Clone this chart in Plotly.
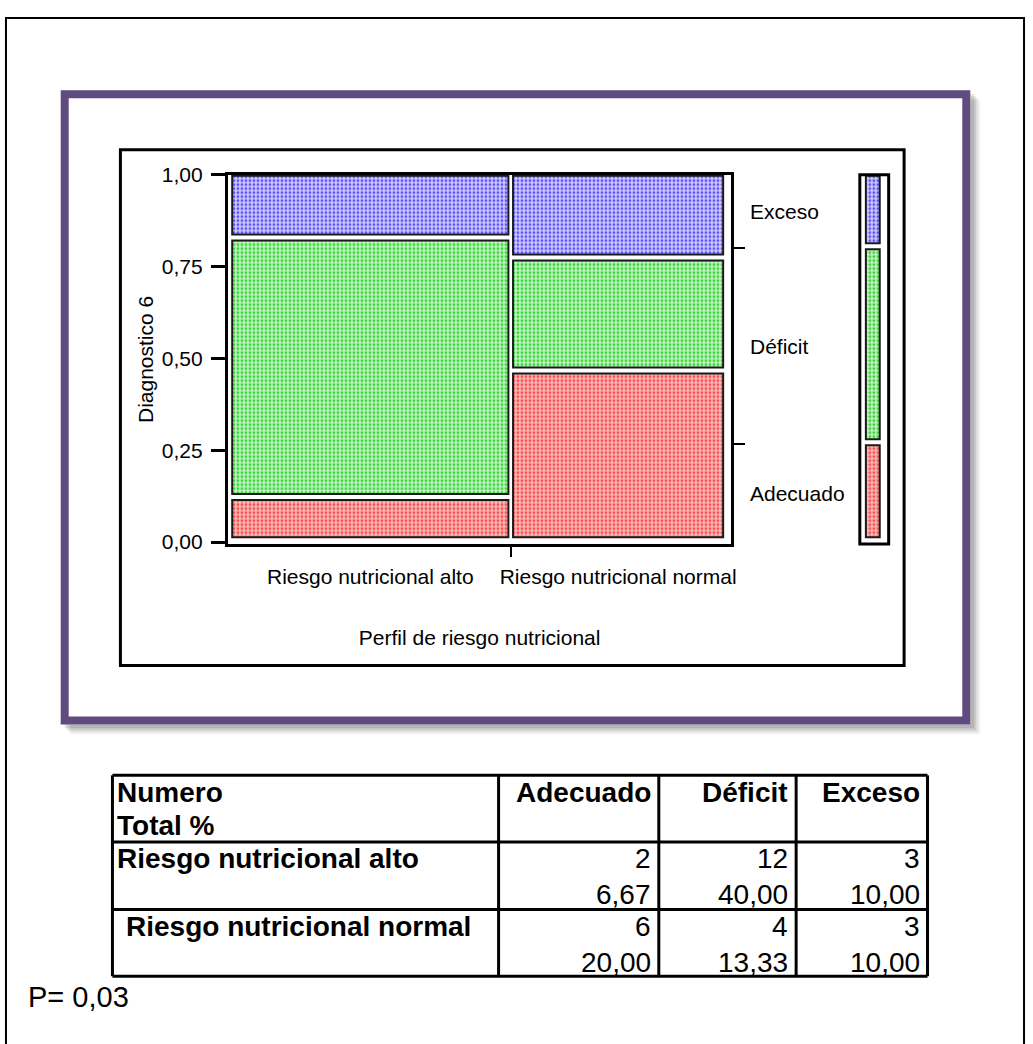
import plotly.graph_objects as go

# ---------------- data ----------------
perfiles = ["Riesgo nutricional alto", "Riesgo nutricional normal"]
diagnosticos = ["Adecuado", "Déficit", "Exceso"]
conteo_alto = [2, 12, 3]
conteo_normal = [6, 4, 3]
pct_alto = ["6,67", "40,00", "10,00"]
pct_normal = ["20,00", "13,33", "10,00"]
ytick_vals = [0, 0.25, 0.5, 0.75, 1.0]
ytick_text = ["0,00", "0,25", "0,50", "0,75", "1,00"]
p_valor = "P= 0,03"

colores_fg = {"Adecuado": "#ff4a4a", "Déficit": "#2fd82f", "Exceso": "#5a4cff"}
colores_bg = {"Adecuado": "#f7bcbc", "Déficit": "#c8f4c8", "Exceso": "#d0cefb"}

W, H = 1033, 1044
def px(x):
    return x / W
def py(y):
    return 1 - y / H

FONT = "Arial, 'Liberation Sans', sans-serif"

# ---------------- mosaic geometry from counts ----------------
conteos = [conteo_alto, conteo_normal]
tot_col = [sum(c) for c in conteos]
N = sum(tot_col)
anchos = [t / N for t in tot_col]
x_izq = [0, anchos[0]]
gx = 0.0047
pad_b, pad_t = 0.0135, 0.0027

fig = go.Figure()

def patron(d):
    return dict(color=colores_bg[d], line=dict(color="#1a1a1a", width=2),
                pattern=dict(shape=".", fgcolor=colores_fg[d], bgcolor=colores_bg[d],
                             size=4, solidity=0.38, fillmode="replace"))

for k, d in enumerate(diagnosticos):
    xs, ws, bases, hs = [], [], [], []
    for j, c in enumerate(conteos):
        lo = sum(c[:k]) / tot_col[j]
        hi = sum(c[:k + 1]) / tot_col[j]
        x0 = x_izq[j] + gx
        x1 = x_izq[j] + anchos[j] - gx
        xs.append((x0 + x1) / 2)
        ws.append(x1 - x0)
        bases.append(lo + pad_b)
        hs.append((hi - pad_t) - (lo + pad_b))
    fig.add_trace(go.Bar(x=xs, y=hs, base=bases, width=ws, name=d, marker=patron(d),
                         xaxis="x", yaxis="y", showlegend=False, hoverinfo="skip"))

# marginal bar
marg = [conteo_alto[k] + conteo_normal[k] for k in range(3)]
for k, d in enumerate(diagnosticos):
    lo = sum(marg[:k]) / N
    hi = sum(marg[:k + 1]) / N
    fig.add_trace(go.Bar(x=[0.45], y=[(hi - pad_t) - (lo + pad_b)], base=[lo + pad_b],
                         width=[0.48], marker=patron(d),
                         xaxis="x2", yaxis="y", showlegend=False, hoverinfo="skip"))

fig.add_trace(go.Scatter(x=[0.5], y=[0.5], xaxis="x", yaxis="y2", mode="markers",
                         marker=dict(opacity=0), showlegend=False, hoverinfo="skip"))

centros = [x_izq[j] + anchos[j] / 2 for j in range(2)]
marg_cum = [sum(marg[:k + 1]) / N for k in range(2)]
marg_mid = [(sum(marg[:k]) + marg[k] / 2) / N for k in range(3)]

yr = [-0.0053, 1.0]
fig.update_layout(
    width=W, height=H, margin=dict(l=0, r=0, t=0, b=0),
    paper_bgcolor="white", plot_bgcolor="white", barmode="overlay",
    font=dict(family=FONT, color="black"),
    xaxis=dict(domain=[px(229), px(735)], range=[-0.004, 1.012], anchor="y",
               showline=True, linewidth=3, linecolor="black", mirror=True,
               showgrid=False, zeroline=False,
               tickvals=centros, ticktext=perfiles, ticks="", ticklabelstandoff=12,
               tickfont=dict(size=21, family=FONT),
               minor=dict(tickvals=[anchos[0]], ticks="outside", ticklen=10,
                          tickwidth=2, tickcolor="black", showgrid=False),
               title=dict(text="Perfil de riesgo nutricional", font=dict(size=21, family=FONT),
                          standoff=44)),
    yaxis=dict(domain=[py(543), py(166)], range=yr, anchor="x",
               showline=True, linewidth=3, linecolor="black", mirror=True,
               showgrid=False, zeroline=False,
               tickvals=ytick_vals, ticktext=ytick_text, ticks="outside",
               ticklen=14, tickwidth=3, tickcolor="black", ticklabelstandoff=4,
               tickfont=dict(size=21, family=FONT),
               title=dict(text="Diagnostico 6", font=dict(size=21, family=FONT), standoff=3)),
    yaxis2=dict(overlaying="y", side="right", anchor="x", range=yr,
                showline=False, showgrid=False, zeroline=False,
                tickvals=marg_cum, ticks="outside", ticklen=13, tickwidth=2,
                tickcolor="black", showticklabels=False),
    xaxis2=dict(domain=[px(864), px(893)], range=[0, 1], anchor="y",
                showline=False, showgrid=False, zeroline=False,
                showticklabels=False, ticks=""),
)

shapes = []
shapes.append(dict(type="rect", xref="paper", yref="paper", x0=px(6), x1=px(1029),
                   y0=py(1060), y1=py(6), line=dict(color="black", width=2), layer="below"))
for i, op in enumerate([0.05, 0.07, 0.09, 0.11]):
    off = 10 - 2 * i
    shapes.append(dict(type="rect", xref="paper", yref="paper",
                       x0=px(61 + off), x1=px(975 + off), y0=py(727 + off), y1=py(80 + off),
                       fillcolor=f"rgba(0,0,0,{op})", line=dict(width=0), layer="below"))
shapes.append(dict(type="rect", xref="paper", yref="paper", x0=px(61), x1=px(975),
                   y0=py(727), y1=py(80), fillcolor="white", line=dict(width=0), layer="below"))
shapes.append(dict(type="rect", xref="paper", yref="paper", x0=px(65), x1=px(971),
                   y0=py(723), y1=py(84), line=dict(color="#5f4b7d", width=8), layer="below"))
shapes.append(dict(type="rect", xref="paper", yref="paper", x0=px(121), x1=px(908.5),
                   y0=py(667), y1=py(140.5), line=dict(color="black", width=3), layer="below"))
shapes.append(dict(type="rect", xref="x2 domain", yref="y domain", x0=0, x1=1, y0=0, y1=1,
                   line=dict(color="black", width=3)))

col_x = [113, 501, 662, 800, 932]
row_y = [779, 847, 916, 984]
for xx in col_x:
    shapes.append(dict(type="line", xref="paper", yref="paper", x0=px(xx), x1=px(xx),
                       y0=py(row_y[0]), y1=py(row_y[-1]), line=dict(color="black", width=3)))
for yy in row_y:
    shapes.append(dict(type="line", xref="paper", yref="paper", x0=px(col_x[0]), x1=px(col_x[-1]),
                       y0=py(yy), y1=py(yy), line=dict(color="black", width=3)))
fig.update_layout(shapes=shapes)

ann = []
for k, d in enumerate(diagnosticos):
    ann.append(dict(text=d, xref="paper", yref="y", x=px(752), y=marg_mid[k],
                    xanchor="left", yanchor="middle", showarrow=False,
                    font=dict(size=21, family=FONT)))

TF = 28
def tann(text, x, y, anchor, bold=False):
    t = f"<b>{text}</b>" if bold else text
    return dict(text=t, xref="paper", yref="paper", x=px(x), y=py(y), xanchor=anchor,
                yanchor="middle", showarrow=False, font=dict(size=TF, family=FONT))

ann.append(tann("Numero", 116, 797, "left", True))
ann.append(tann("Total %", 116, 830, "left", True))
for c, d in enumerate(diagnosticos):
    ann.append(tann(d, col_x[c + 2] - 6, 797, "right", True))
filas = [(perfiles[0], conteo_alto, pct_alto, 116), (perfiles[1], conteo_normal, pct_normal, 125)]
for r, (lab, cnt, pct, lx) in enumerate(filas):
    top = row_y[r + 1]
    ann.append(tann(lab, lx, top + 17, "left", True))
    for c in range(3):
        ann.append(tann(str(cnt[c]), col_x[c + 2] - 6, top + 17, "right"))
        ann.append(tann(pct[c], col_x[c + 2] - 6, top + 54, "right"))
ann.append(dict(text=p_valor, xref="paper", yref="paper", x=px(26), y=py(1005),
                xanchor="left", yanchor="middle", showarrow=False,
                font=dict(size=29, family=FONT)))
fig.update_layout(annotations=ann)

fig.write_html("out.html", config={"displayModeBar": False},
               post_script="document.body.style.margin='0';")
